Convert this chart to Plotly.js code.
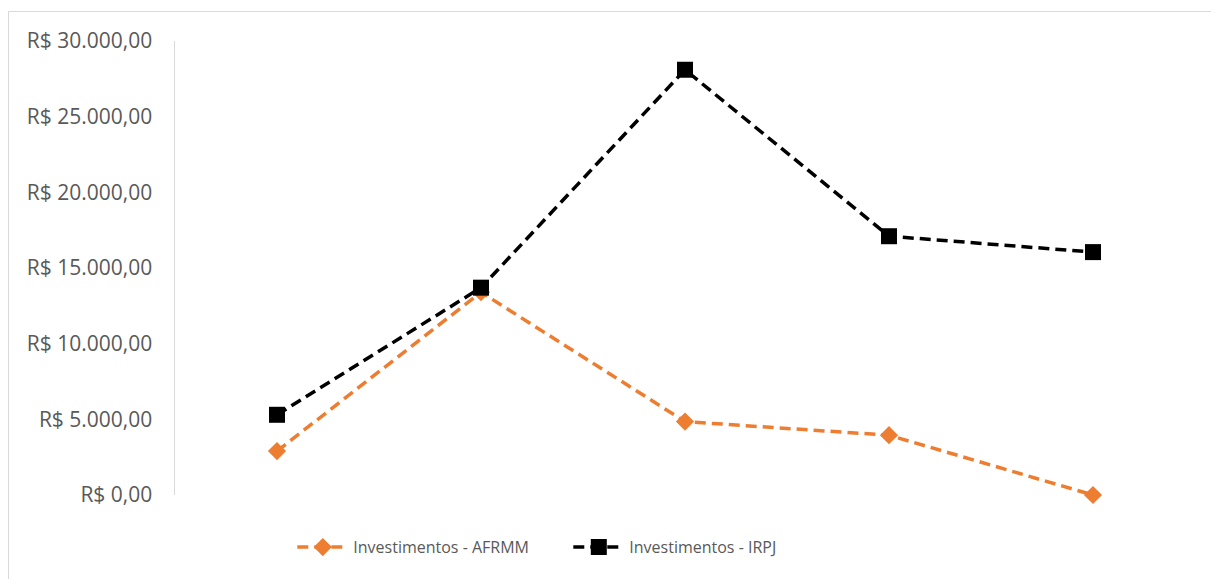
<!DOCTYPE html>
<html>
<head>
<meta charset="utf-8">
<script src="https://cdn.plot.ly/plotly-3.0.1.min.js"></script>
<style>
  html, body { margin: 0; padding: 0; background: #ffffff; overflow: hidden; }
  #frame { position: absolute; left: 8px; top: 11px; width: 1400px; height: 800px;
           border-top: 1.5px solid #d9d9d9; border-left: 1.5px solid #d9d9d9; z-index: 0; }
  #chart { position: absolute; left: 0; top: 0; width: 1211px; height: 579px; z-index: 1; }
</style>
</head>
<body>
<div id="frame"></div>
<div id="chart"></div>
<script>
const categories = ['1', '2', '3', '4', '5'];
const afrmm = [2900, 13400, 4850, 3950, 0];
const irpj = [5300, 13700, 28100, 17100, 16050];
const seriesNames = ['Investimentos - AFRMM', 'Investimentos - IRPJ'];
const tickValues = [0, 5000, 10000, 15000, 20000, 25000, 30000];
const tickLabels = ['R$ 0,00', 'R$ 5.000,00', 'R$ 10.000,00', 'R$ 15.000,00', 'R$ 20.000,00', 'R$ 25.000,00', 'R$ 30.000,00'];

const traces = [
  {
    x: categories, y: afrmm, name: seriesNames[0], type: 'scatter', mode: 'lines+markers',
    line: { color: '#ED7D31', width: 3.5, dash: '11px,6px' },
    marker: { symbol: 'diamond', size: 14, color: '#ED7D31' },
    cliponaxis: false
  },
  {
    x: categories, y: irpj, name: seriesNames[1], type: 'scatter', mode: 'lines+markers',
    line: { color: '#000000', width: 3.5, dash: '11px,6px' },
    marker: { symbol: 'square', size: 16, color: '#000000' },
    cliponaxis: false
  }
];

const layout = {
  width: 1211, height: 579,
  margin: { l: 175, r: 16, t: 41, b: 84 },
  paper_bgcolor: 'rgba(0,0,0,0)',
  plot_bgcolor: 'rgba(0,0,0,0)',
  font: { family: 'Open Sans, sans-serif', color: '#595959', size: 17 },
  showlegend: true,
  legend: {
    orientation: 'h', x: 0.115, xanchor: 'left', y: -0.115, yanchor: 'middle',
    font: { size: 16, color: '#595959' }, itemwidth: 51, traceorder: 'normal',
    entrywidth: 210, bgcolor: 'rgba(0,0,0,0)'
  },
  xaxis: {
    type: 'category', range: [-0.5, 4.5], showticklabels: false, showgrid: false,
    zeroline: false, showline: false, ticks: ''
  },
  yaxis: {
    range: [0, 30000], tickvals: tickValues, ticktext: tickLabels, showgrid: false,
    zeroline: false, showline: true, linecolor: '#d9d9d9', linewidth: 1.5, ticks: '',
    ticklabelstandoff: 17, tickfont: { size: 21, color: '#595959' }
  }
};

Plotly.newPlot('chart', traces, layout, { displayModeBar: false, staticPlot: true });
</script>
</body>
</html>
